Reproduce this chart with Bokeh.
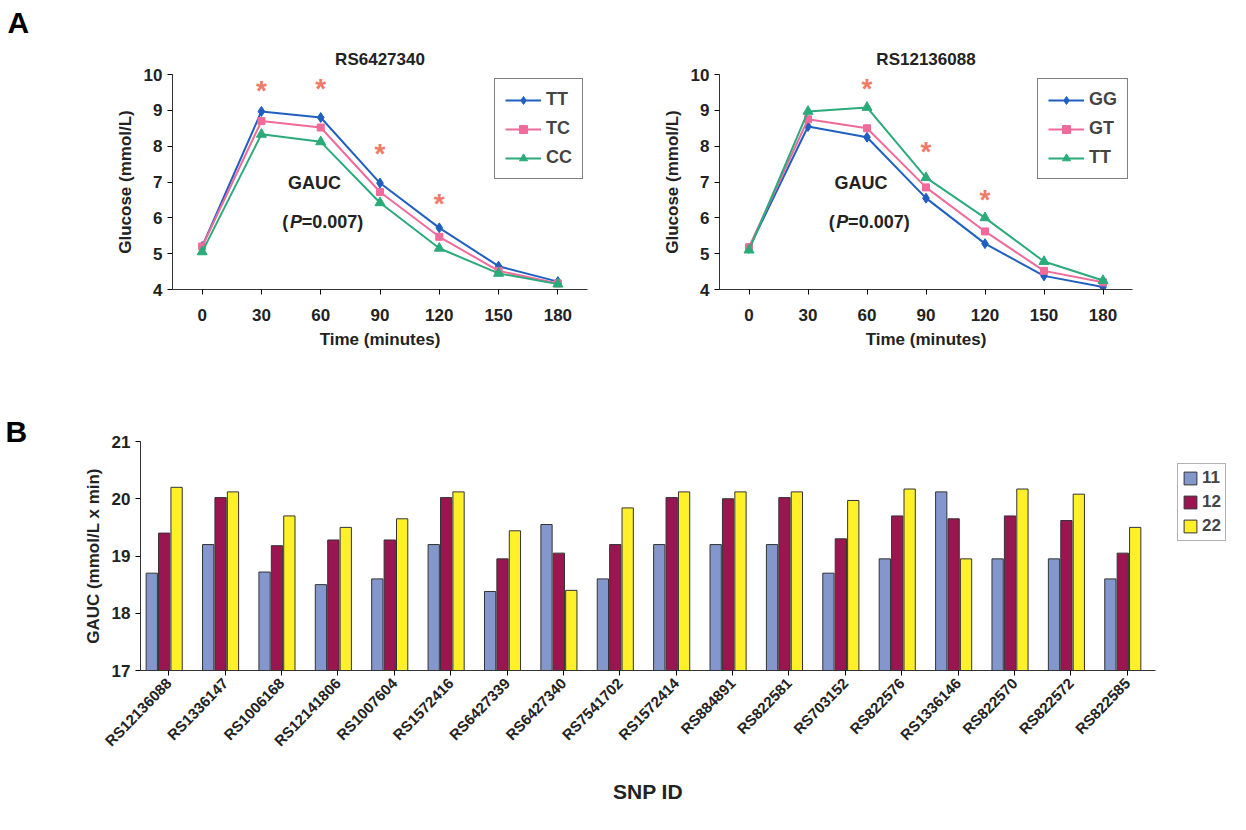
from bokeh.plotting import figure
from bokeh.layouts import column, row
from bokeh.models import Label, Legend, LegendItem, FixedTicker, ColumnDataSource, Title
from bokeh.transform import dodge
from bokeh.embed import file_html
from bokeh.resources import INLINE
from bokeh.core.properties import value

times = ["0", "30", "60", "90", "120", "150", "180"]
tt_a = [5.2, 8.97, 8.8, 6.97, 5.72, 4.65, 4.22]
tc_a = [5.2, 8.7, 8.52, 6.72, 5.47, 4.52, 4.17]
cc_a = [5.05, 8.33, 8.12, 6.42, 5.15, 4.45, 4.15]
stars_a_x = [1, 2, 3, 4]
stars_a_y = [9.55, 9.6, 7.8, 6.4]

gg_b = [5.15, 8.55, 8.25, 6.55, 5.28, 4.38, 4.07]
gt_b = [5.18, 8.75, 8.5, 6.85, 5.62, 4.52, 4.2]
tt_b = [5.1, 8.97, 9.08, 7.12, 6.0, 4.78, 4.25]
stars_b_x = [2, 3, 4]
stars_b_y = [9.6, 7.85, 6.5]

snps = ["RS12136088", "RS1336147", "RS1006168", "RS12141806", "RS1007604", "RS1572416",
        "RS6427339", "RS6427340", "RS7541702", "RS1572414", "RS884891", "RS822581",
        "RS703152", "RS822576", "RS1336146", "RS822570", "RS822572", "RS822585"]
g11 = [18.7, 19.2, 18.72, 18.5, 18.6, 19.2, 18.38, 19.55, 18.6, 19.2, 19.2, 19.2, 18.7, 18.95, 20.12, 18.95, 18.95, 18.6]
g12 = [19.4, 20.02, 19.18, 19.28, 19.28, 20.02, 18.95, 19.05, 19.2, 20.02, 20.0, 20.02, 19.3, 19.7, 19.65, 19.7, 19.62, 19.05]
g22 = [20.2, 20.12, 19.7, 19.5, 19.65, 20.12, 19.44, 18.4, 19.84, 20.12, 20.12, 20.12, 19.97, 20.17, 18.95, 20.17, 20.08, 19.5]

FONT = "Liberation Sans"
BLUE, PINK, GREEN = "#1F5FBF", "#F06A9A", "#2BAA7A"
STAR = "#F07A6A"


def style(p):
    p.grid.visible = False
    p.outline_line_color = None
    p.background_fill_color = "white"
    for ax in p.axis:
        ax.major_label_text_font = FONT
        ax.major_label_text_font_style = "bold"
        ax.major_label_text_font_size = "17px"
        ax.major_label_text_color = "#222"
        ax.axis_label_text_font = FONT
        ax.axis_label_text_font_style = "bold"
        ax.axis_label_text_font_size = "17px"
        ax.axis_label_text_color = "#222"
        ax.minor_tick_line_color = None
        ax.major_tick_in = 0
        ax.major_tick_out = 5
        ax.axis_line_color = "#333"
        ax.axis_label_standoff = 6


def set_letter(p, letter, offset, standoff):
    p.title.text = letter
    p.title.align = "left"
    p.title.offset = offset
    p.title.text_font = FONT
    p.title.text_font_size = "30px"
    p.title.text_font_style = "bold"
    p.title.text_color = "black"
    p.title.standoff = standoff


def line_panel(title, series, names, colors, sx, sy, fw, bl, br, letter):
    p = figure(frame_width=fw, frame_height=215, x_range=(-0.5, 6.5), y_range=(4, 10),
               output_backend="svg", toolbar_location=None,
               min_border_left=bl, min_border_right=br, min_border_top=5, min_border_bottom=98,
               x_axis_label="Time (minutes)", y_axis_label="Glucose (mmol/L)")
    set_letter(p, letter, -165, 6)
    p.add_layout(Title(text=title, align="center", text_font=FONT, text_font_size="17px",
                       text_font_style="bold", text_color="#222", standoff=12), "above")
    style(p)
    p.xaxis.ticker = FixedTicker(ticks=list(range(7)))
    p.xaxis.major_label_overrides = {i: t for i, t in enumerate(times)}
    p.xaxis.major_label_standoff = 14
    p.yaxis.ticker = FixedTicker(ticks=list(range(4, 11)))
    xs = list(range(7))
    items = []
    markers = ["diamond", "square", "triangle"]
    for s, n, c, m in zip(series, names, colors, markers):
        r = p.line(xs, s, line_color=c, line_width=2)
        sc = p.scatter(xs, s, marker=m, size=10 if m != "square" else 7, fill_color=c, line_color=c)
        items.append(LegendItem(label=n, renderers=[r, sc]))
    p.text(sx, sy, text=["*"] * len(sx), text_color=STAR, text_font=value(FONT),
           text_font_size="28px", text_font_style="bold", text_align="center", text_baseline="middle")
    lg = Legend(items=items, location="top_right", label_text_font=FONT, label_text_font_style="bold",
                label_text_font_size="18px", border_line_color="black", border_line_width=1.5,
                glyph_width=36, spacing=8, padding=10, margin=4)
    p.add_layout(lg)
    for xx, yy, t, st in [(1.45, 6.7, "GAUC", "bold"), (1.35, 5.6, "(", "bold"),
                          (1.48, 5.6, "P", "bold italic"), (1.68, 5.6, " =0.007)", "bold")]:
        p.add_layout(Label(x=xx, y=yy, text=t, text_font=FONT, text_font_style=st,
                           text_font_size="18px", text_color="#222"))
    return p


pa = line_panel("RS6427340", [tt_a, tc_a, cc_a], ["TT", "TC", "CC"], [BLUE, PINK, GREEN],
                stars_a_x, stars_a_y, 415, 172, 15, "A")
pb = line_panel("RS12136088", [gg_b, gt_b, tt_b], ["GG", "GT", "TT"], [BLUE, PINK, GREEN],
                stars_b_x, stars_b_y, 413, 117, 98, " ")

src = ColumnDataSource(dict(snp=snps, g11=g11, g12=g12, g22=g22))
pc = figure(frame_width=1015, frame_height=229, x_range=snps, y_range=(17, 21),
            output_backend="svg", toolbar_location=None,
            min_border_left=140, min_border_right=0, min_border_top=54, min_border_bottom=140,
            x_axis_label="SNP ID", y_axis_label="GAUC (mmol/L x min)")
set_letter(pc, "B", -135, -12)
style(pc)
pc.xaxis.major_label_orientation = 0.8
pc.xaxis.major_label_text_font_size = "15px"
pc.xaxis.axis_label_text_font_size = "21px"
pc.xaxis.axis_label_standoff = 22
pc.yaxis.ticker = FixedTicker(ticks=[17, 18, 19, 20, 21])
pc.x_range.range_padding = 0.0
bw = 0.2
r1 = pc.vbar(x=dodge("snp", -0.3, range=pc.x_range), top="g11", bottom=17, width=bw, source=src,
             fill_color="#8497CC", line_color="#333")
r2 = pc.vbar(x=dodge("snp", -0.08, range=pc.x_range), top="g12", bottom=17, width=bw, source=src,
             fill_color="#9A1650", line_color="#333")
r3 = pc.vbar(x=dodge("snp", 0.14, range=pc.x_range), top="g22", bottom=17, width=bw, source=src,
             fill_color="#FFF02A", line_color="#333")
lg = Legend(items=[LegendItem(label="11", renderers=[r1]), LegendItem(label="12", renderers=[r2]),
                   LegendItem(label="22", renderers=[r3])],
            location="top_left", label_text_font=FONT, label_text_font_style="bold",
            label_text_font_size="17px", border_line_color="#666", glyph_width=16, glyph_height=16,
            spacing=4, padding=4, label_standoff=4, label_width=18, margin=22)
pc.add_layout(lg, "right")

layout = column(row(pa, pb, spacing=0), pc, spacing=0)
open("out.html", "w").write(file_html(layout, INLINE))
